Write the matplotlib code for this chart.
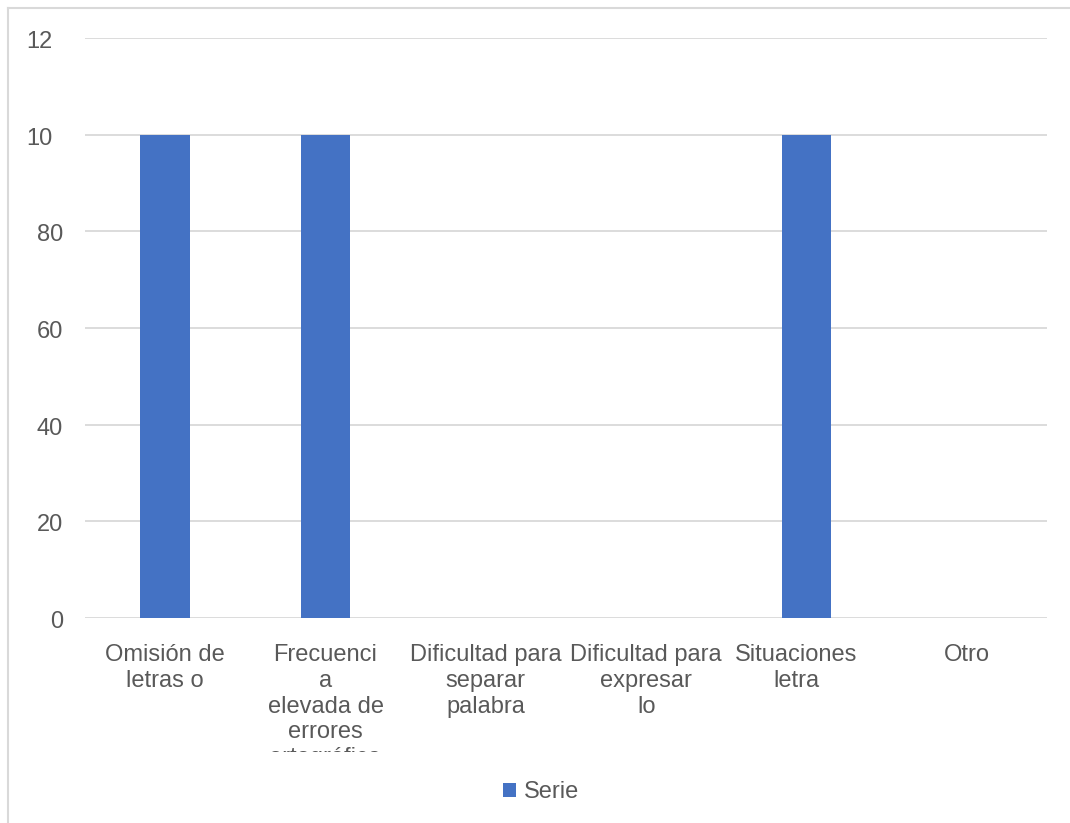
import numpy as np
import matplotlib
matplotlib.use("Agg")
import matplotlib.pyplot as plt
from matplotlib.lines import Line2D
from matplotlib.transforms import Bbox, TransformedBbox, blended_transform_factory, offset_copy

plt.rcParams['font.family'] = ['Liberation Sans', 'DejaVu Sans']

# data
categories = ['Omisión de\nletras o',
              'Frecuenci\na\nelevada de\nerrores\nortográfica',
              'Dificultad para\nseparar\npalabra',
              'Dificultad para\nexpresar\nlo',
              'Situaciones\nletra',
              'Otro']
values = [100, 100, 0, 0, 100, 0]
series_name = 'Serie'
ytick_values = [0, 20, 40, 60, 80, 100, 120]
ytick_labels = ['0', '20', '40', '60', '80', '10', '12']

text_col = '#595959'
grid_col = '#D9D9D9'
bar_col = '#4472C4'

W, H = 1070, 823
fig = plt.figure(figsize=(W / 100, H / 100), dpi=100)
ax = fig.add_axes([85 / W, 1 - 618 / H, (1047 - 85) / W, (618 - 38) / H])

x = np.arange(len(categories))
bars = ax.bar(x, values, width=0.31, color=bar_col, zorder=3, label=series_name)

ax.set_xlim(-0.5, len(categories) - 0.5)
ax.set_ylim(0, 120)
ax.set_yticks(ytick_values)
ax.yaxis.grid(True, color=grid_col, linewidth=1.3, zorder=0)
ax.set_axisbelow(True)
for s in ax.spines.values():
    s.set_visible(False)
ax.tick_params(axis='both', length=0)
ax.set_yticklabels([])

# y labels (the 3-digit ones are cut in the original)
trans = blended_transform_factory(ax.transAxes, ax.transData)
for v, lab in zip(ytick_values, ytick_labels):
    shift = -22 if len(str(v)) < 3 else -33
    ax.text(0, v, lab, transform=offset_copy(trans, fig=fig, x=shift, y=-4, units='dots'),
            ha='right', va='center', fontsize=17, color=text_col)

# category labels
ax.set_xticks(x)
ax.set_xticklabels(categories, fontsize=17, color=text_col, linespacing=1.23)
ax.tick_params(axis='x', pad=18.5)
clip = TransformedBbox(Bbox([[0, 1 - 752 / H], [1, 1]]), fig.transFigure)
for lbl in ax.get_xticklabels():
    lbl.set_clip_box(clip)
    lbl.set_clip_on(True)
# the "Situaciones" label sits a little left in the original
sit = ax.get_xticklabels()[4]
sit.set_transform(offset_copy(sit.get_transform(), fig=fig, x=-10, y=0, units='dots'))

# legend
fig.legend(handles=[bars], labels=[series_name], loc='center',
           bbox_to_anchor=(541 / W, 1 - 792 / H), frameon=False, fontsize=17,
           handlelength=0.55, handleheight=0.55, handletextpad=0.35, labelcolor=text_col)

# chart area border (partly outside the image)
fig.add_artist(Line2D([8 / W, 8 / W], [0, 1 - 8 / H], transform=fig.transFigure,
                      color=grid_col, linewidth=1.5))
fig.add_artist(Line2D([8 / W, 1], [1 - 8 / H, 1 - 8 / H], transform=fig.transFigure,
                      color=grid_col, linewidth=1.5))

fig.savefig('out.png', dpi=100)
